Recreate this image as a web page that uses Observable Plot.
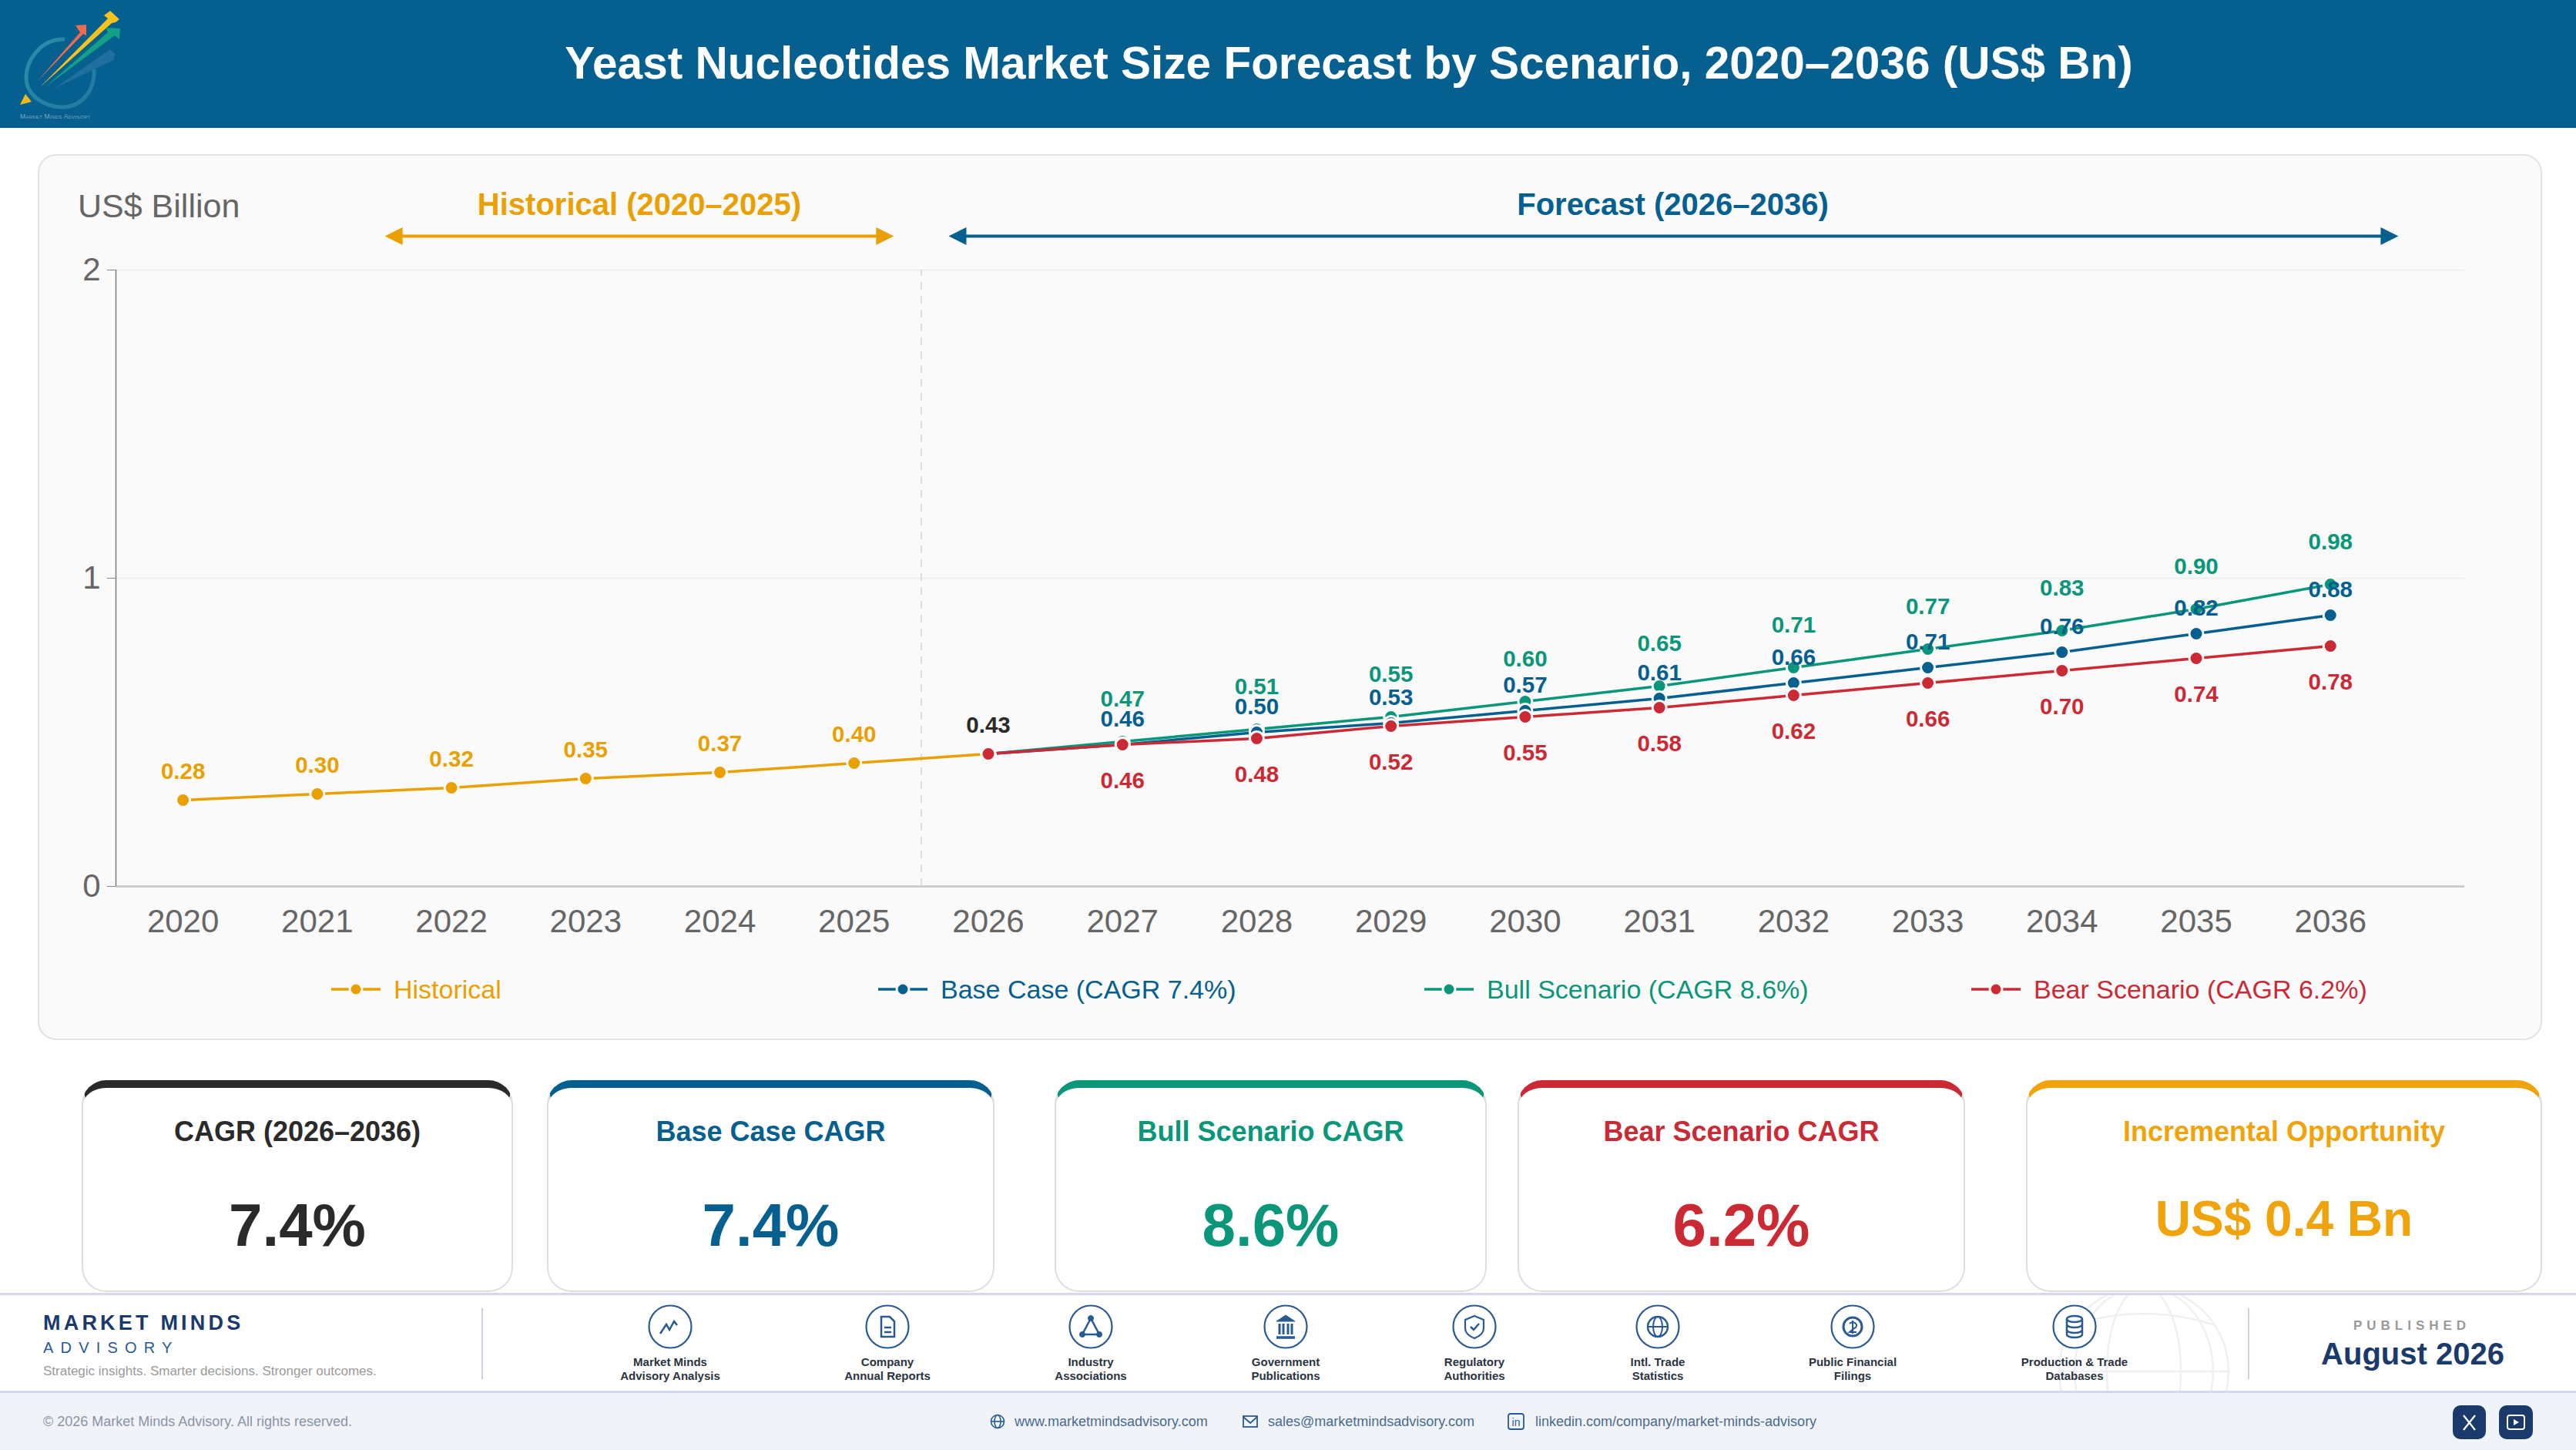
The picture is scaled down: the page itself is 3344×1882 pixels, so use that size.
<!DOCTYPE html>
<html lang="en">
<head>
<meta charset="utf-8">
<title>Yeast Nucleotides Market Size Forecast by Scenario</title>
<script src="https://cdn.jsdelivr.net/npm/d3@7"></script>
<script src="https://cdn.jsdelivr.net/npm/@observablehq/plot@0.6"></script>
<style>
html,body{margin:0;padding:0;background:#fff;}
#root{position:relative;width:3344px;height:1882px;overflow:hidden;font-family:"Liberation Sans",Arial,sans-serif;background:#fff;}
#root>*{position:absolute;}
.t{position:absolute;white-space:nowrap;line-height:1;}
.c{transform:translate(-50%,-50%);text-align:center;}
.m{transform:translateY(-50%);}
.card{box-sizing:border-box;background:#fff;border:2px solid #dedede;border-top-width:10px;border-radius:32px;}
</style>
</head>
<body>
<div id="root"></div>
<script>
// ---- chart data ----
const histYears = [2020, 2021, 2022, 2023, 2024, 2025, 2026];
const histValues = [0.28, 0.30, 0.32, 0.35, 0.37, 0.40, 0.43];
const foreYears = [2026, 2027, 2028, 2029, 2030, 2031, 2032, 2033, 2034, 2035, 2036];
const baseValues = [0.43, 0.46, 0.50, 0.53, 0.57, 0.61, 0.66, 0.71, 0.76, 0.82, 0.88];
const bullValues = [0.43, 0.47, 0.51, 0.55, 0.60, 0.65, 0.71, 0.77, 0.83, 0.90, 0.98];
const bearValues = [0.43, 0.46, 0.48, 0.52, 0.55, 0.58, 0.62, 0.66, 0.70, 0.74, 0.78];
const xTicks = [2020,2021,2022,2023,2024,2025,2026,2027,2028,2029,2030,2031,2032,2033,2034,2035,2036];
const yTicks = [0, 1, 2];

const legendItems = [
  ["Historical", "#E9A000"],
  ["Base Case (CAGR 7.4%)", "#05608F"],
  ["Bull Scenario (CAGR 8.6%)", "#0A9678"],
  ["Bear Scenario (CAGR 6.2%)", "#CB2A35"]
];
const kpiLabels = ["CAGR (2026–2036)", "Base Case CAGR", "Bull Scenario CAGR", "Bear Scenario CAGR", "Incremental Opportunity"];
const kpiValues = ["7.4%", "7.4%", "8.6%", "6.2%", "US$ 0.4 Bn"];
const sourceLabels = [
  ["Market Minds","Advisory Analysis"],["Company","Annual Reports"],["Industry","Associations"],
  ["Government","Publications"],["Regulatory","Authorities"],["Intl. Trade","Statistics"],
  ["Public Financial","Filings"],["Production & Trade","Databases"]
];

// ---- styles and layout ----
const ORANGE="#E9A000", BASE="#05608F", BULL="#0A9678", BEAR="#CB2A35", INK="#2A2A2A", NAVY="#1A3A6B", ICON="#2A5A94";
const root = document.getElementById("root");
function el(html){const d=document.createElement("div");d.innerHTML=html.trim();return d.firstChild;}
function text(str,x,y,size,color,opt={}){
  const e=document.createElement("div");
  e.className="t "+(opt.left?"m":"c");
  e.textContent=str;
  e.style.cssText+=`left:${x}px;top:${y}px;font-size:${size}px;color:${color};font-weight:${opt.bold?700:400};letter-spacing:${opt.ls||0}px;`;
  root.appendChild(e);
}
function box(x,y,w,h,css){const e=document.createElement("div");e.style.cssText=`left:${x}px;top:${y}px;width:${w}px;height:${h}px;${css}`;root.appendChild(e);return e;}

// header
box(0,0,3344,166,`background:${BASE};`);
root.appendChild(el(`<svg style="left:0;top:0" width="180" height="166" viewBox="0 0 180 166">
<defs><linearGradient id="ring" x1="0" y1="0" x2="1" y2="1"><stop offset="0" stop-color="#2f8cab"/><stop offset="1" stop-color="#1f7a9f"/></linearGradient></defs>
<path d="M84 51 C52 50 33 80 34 103 C36 127 62 140 84 139 C108 137 124 115 122 90" fill="none" stroke="url(#ring)" stroke-width="5"/>
<polygon points="70,115 143,64 150,70 147,78" fill="#1f6f9f"/>
<polygon points="60,112 140,42 138,36 156,37 155,51 149,46" fill="#14A085"/>
<polygon points="52,113 140,24 135,20 143,14 155,25 150,29 145,30" fill="#F6C21C"/>
<polygon points="48,106 104,42 98,33 112,32 112,46 108,44" fill="#EF6A4E"/>
<polygon points="26,136 41,132 33,122" fill="#F4B81E"/>
<text x="26" y="154" font-size="8.5" fill="#7FA8C4" font-family="Liberation Sans" style="font-variant:small-caps" letter-spacing=".3">Market Minds Advisory</text>
</svg>`));
text("Yeast Nucleotides Market Size Forecast by Scenario, 2020–2036 (US$ Bn)",1751,82,58.5,"#fff",{bold:true});

// chart card
box(49,200,3251,1150,"box-sizing:border-box;background:#FAFAFA;border:2px solid #E2E2E2;border-radius:24px;");
text("US$ Billion",101,267,43,"#666",{left:true});

const toRows=(ys,vs,series)=>ys.map((year,i)=>({year,value:vs[i],series}));
const histRows=toRows(histYears,histValues,"Historical");
const baseRows=toRows(foreYears,baseValues,"Base");
const bullRows=toRows(foreYears,bullValues,"Bull");
const bearRows=toRows(foreYears,bearValues,"Bear");

const triLeft={draw(ctx,size){const s=Math.sqrt(size/Math.PI);ctx.moveTo(-s,0);ctx.lineTo(s,-s);ctx.lineTo(s,s);ctx.closePath();}};
const triRight={draw(ctx,size){const s=Math.sqrt(size/Math.PI);ctx.moveTo(s,0);ctx.lineTo(-s,-s);ctx.lineTo(-s,s);ctx.closePath();}};

const periods=[
  {label:"Historical (2020–2025)",start:2021.57,end:2025.23,mid:2023.4,color:ORANGE},
  {label:"Forecast (2026–2036)",start:2025.77,end:2036.44,mid:2031.1,color:BASE}
];
const arrowY=2.11, periodLabelY=2.21;

const seriesMark=(rows,color)=>[
  Plot.line(rows,{x:"year",y:"value",stroke:color,strokeWidth:3.5}),
];
const dotMark=(rows,color)=>Plot.dot(rows,{x:"year",y:"value",fill:color,stroke:"#FAFAFA",strokeWidth:3,r:9});
const labelMark=(rows,color,dy)=>Plot.text(rows,{x:"year",y:"value",text:d=>d.value.toFixed(2),fill:color,dy,fontSize:29.5,fontWeight:700,lineAnchor:"middle"});

const chart=Plot.plot({
  width:3344,height:1350,
  marginLeft:150,marginRight:145,marginTop:350,marginBottom:200,
  style:{background:"transparent",fontFamily:"Liberation Sans",overflow:"visible"},
  x:{domain:[2019.5,2037]},
  y:{domain:[0,2]},
  marks:[
    Plot.ruleY([1,2],{stroke:"#EEEEEE",strokeWidth:2}),
    Plot.ruleX([2025.5],{y1:0,y2:2,stroke:"#DCDCDC",strokeWidth:2,strokeDasharray:"10,8"}),
    Plot.ruleY([0],{stroke:"#CDCDCD",strokeWidth:3}),
    Plot.ruleX([2019.5],{y1:0,y2:2,stroke:"#7E7E7E",strokeWidth:1.5}),
    Plot.axisY({ticks:yTicks,tickFormat:"d",label:null,tickSize:11,tickPadding:9,fontSize:42,color:"#666",stroke:"#888",tickStrokeWidth:1.5}),
    Plot.axisX({ticks:xTicks,tickFormat:"d",label:null,tickSize:0,tickPadding:30,fontSize:42,color:"#666"}),
    ...seriesMark(histRows,ORANGE),
    ...seriesMark(bullRows,BULL),
    ...seriesMark(baseRows,BASE),
    ...seriesMark(bearRows,BEAR),
    dotMark(histRows,ORANGE),
    dotMark(bullRows,BULL),
    dotMark(baseRows,BASE),
    dotMark(bearRows,BEAR),
    labelMark(histRows.slice(0,6),ORANGE,-36.5),
    labelMark(bullRows.slice(1),BULL,-55),
    labelMark(baseRows.slice(1),BASE,-33),
    labelMark(bearRows.slice(1),BEAR,47),
    labelMark(baseRows.slice(0,1),INK,-36.5),
    Plot.ruleY(periods,{x1:"start",x2:"end",y:()=>arrowY,stroke:"color",strokeWidth:4}),
    Plot.dot(periods,{x:"start",y:()=>arrowY,r:11.5,fill:"color",stroke:"none",symbol:triLeft}),
    Plot.dot(periods,{x:"end",y:()=>arrowY,r:11.5,fill:"color",stroke:"none",symbol:triRight}),
    Plot.text(periods,{x:"mid",y:()=>periodLabelY,text:"label",fill:"color",fontSize:40,fontWeight:700,lineAnchor:"middle"})
  ]
});
chart.style.left="0";chart.style.top="0";
root.appendChild(chart);

// legend
const legendX=[430,1140,1849,2559], legendTextX=[511,1221,1930,2640];
legendItems.forEach(([name,color],i)=>{
  root.appendChild(el(`<svg style="left:${legendX[i]}px;top:1270px" width="64" height="28"><line x1="0" x2="64" y1="14" y2="14" stroke="${color}" stroke-width="3.5"/><circle cx="32" cy="14" r="8" fill="${color}" stroke="#FAFAFA" stroke-width="3"/></svg>`));
  text(name,legendTextX[i],1284,34,color,{left:true});
});

// KPI cards
const cardX=[106,710,1369,1970,2630], cardW=[560,581,561,581,670], cardColor=[INK,BASE,BULL,BEAR,"#F0A30A"];
kpiLabels.forEach((lab,i)=>{
  box(cardX[i],1402,cardW[i],275,"").className="card";
  const e=root.lastChild;e.style.borderTopColor=cardColor[i];
  const cx=cardX[i]+cardW[i]/2;
  text(lab,cx,1469,36,cardColor[i],{bold:true});
  if(i<4)text(kpiValues[i],cx,1590,78,cardColor[i],{bold:true});
  else text(kpiValues[i],cx,1582,64,cardColor[i],{bold:true});
});

// footer
box(0,1680,3344,127,"background:#fff;");
root.appendChild(el(`<svg style="left:0;top:1680px" width="3344" height="127" fill="none" stroke="#EEF0F4" stroke-width="2.5">
<circle cx="2783" cy="100" r="110"/><ellipse cx="2783" cy="100" rx="48" ry="110"/><ellipse cx="2783" cy="100" rx="90" ry="110"/>
<line x1="2673" x2="2893" y1="100" y2="100"/><path d="M2690 40 Q2783 10 2876 40"/></svg>`));
box(0,1678,3344,3,"background:#D5D8E6;");
box(0,1807,3344,75,"background:#F0F4F9;");
box(0,1805,3344,3,"background:#D5D8E6;");
text("MARKET MINDS",56,1717,27,NAVY,{bold:true,left:true,ls:4.2});
text("ADVISORY",56,1749,20,"#2A5A94",{left:true,ls:9.2});
text("Strategic insights. Smarter decisions. Stronger outcomes.",56,1779,17,"#9A9A9A",{left:true});
box(625,1698,2,92,"background:#CBD3E0;");
box(2918,1698,2,92,"background:#CBD3E0;");

const iconX=[870,1152,1416,1669,1914,2152,2405,2693];
const iconGlyphs=[
 `<path d="M-13 9 L-5 -3 L-1 4 L5 -7 L9 -2 " fill="none" stroke-width="2.5"/>`,
 `<path d="M-8 -13 H3 L9 -7 V13 H-8 Z" fill="none" stroke-width="2.5"/><path d="M-4 1 H5 M-4 7 H5" stroke-width="2.5"/>`,
 `<path d="M0 -11 L-11 10 H11 Z" fill="none" stroke-width="2.5"/><circle cx="0" cy="-11" r="3.5" fill="${ICON}"/><circle cx="-11" cy="10" r="3.5" fill="${ICON}"/><circle cx="11" cy="10" r="3.5" fill="${ICON}"/>`,
 `<path d="M-12 -7 L0 -15 L12 -7 Z" fill="${ICON}"/><path d="M-8 -4 V10 M-3 -4 V10 M3 -4 V10 M8 -4 V10" stroke-width="3"/><path d="M-12 14 H12" stroke-width="3.5"/>`,
 `<path d="M0 -14 L12 -9 V2 C12 9 5 13 0 15 C-5 13 -12 9 -12 2 V-9 Z" fill="none" stroke-width="2.2"/><path d="M-5 0 L-1 4 L6 -4" fill="none" stroke-width="2.5"/>`,
 `<circle r="13" fill="none" stroke-width="2.5"/><ellipse rx="6" ry="13" fill="none" stroke-width="2"/><path d="M-13 0 H13" stroke-width="2"/>`,
 `<circle r="12" fill="none" stroke-width="3"/><path d="M-4 -4 A5 4 0 1 1 2 2 L-4 7 H5 M0 -8 V9" fill="none" stroke-width="2"/>`,
 `<ellipse cy="-10" rx="10" ry="4" fill="none" stroke-width="2.5"/><path d="M-10 -10 V10 A10 4 0 0 0 10 10 V-10 M-10 -3 A10 4 0 0 0 10 -3 M-10 4 A10 4 0 0 0 10 4" fill="none" stroke-width="2.5"/>`
];
sourceLabels.forEach((lines,i)=>{
  root.appendChild(el(`<svg style="left:${iconX[i]-30}px;top:1692px" width="60" height="60" viewBox="-30 -30 60 60" stroke="${ICON}"><circle r="27.5" fill="#fff" stroke-width="2.2"/>${iconGlyphs[i]}</svg>`));
  text(lines[0],iconX[i],1767,15,"#2A3340",{bold:true});
  text(lines[1],iconX[i],1785,15,"#2A3340",{bold:true});
});
text("PUBLISHED",3131,1720,17,"#999",{bold:true,ls:6});
text("August 2026",3132,1757,40,NAVY,{bold:true});

// bottom strip
text("© 2026 Market Minds Advisory. All rights reserved.",56,1845,18,"#8A94A6",{left:true});
const contacts=[["www.marketmindsadvisory.com",1317],["sales@marketmindsadvisory.com",1646],["linkedin.com/company/market-minds-advisory",1993]];
contacts.forEach(([s,x])=>text(s,x,1845,18,"#4A6A8F",{left:true}));
const CI="#2A5A94";
root.appendChild(el(`<svg style="left:1284px;top:1834px" width="22" height="22" viewBox="-11 -11 22 22" fill="none" stroke="${CI}" stroke-width="1.6"><circle r="8.5"/><ellipse rx="4" ry="8.5"/><path d="M-8.5 0 H8.5"/></svg>`));
root.appendChild(el(`<svg style="left:1612px;top:1834px" width="22" height="22" viewBox="-11 -11 22 22" fill="none" stroke="${CI}" stroke-width="1.8"><rect x="-9" y="-7" width="18" height="14"/><path d="M-9 -6 L0 2 L9 -6"/></svg>`));
root.appendChild(el(`<svg style="left:1956px;top:1833px" width="24" height="24" viewBox="-12 -12 24 24"><rect x="-10" y="-10" width="20" height="20" rx="3" fill="none" stroke="${CI}" stroke-width="1.8"/><text x="0" y="5.5" text-anchor="middle" font-size="14" fill="${CI}" font-family="Liberation Sans">in</text></svg>`));
box(3184,1824,43,44,`background:${NAVY};border-radius:10px;`);
box(3244,1824,44,44,`background:${NAVY};border-radius:10px;`);
root.appendChild(el(`<svg style="left:3184px;top:1824px" width="43" height="44" stroke="#fff" stroke-width="2.2"><path d="M14 13 L29 32 M29 13 L14 32"/></svg>`));
root.appendChild(el(`<svg style="left:3244px;top:1824px" width="44" height="44" fill="none" stroke="#fff" stroke-width="2"><rect x="11" y="13" width="22" height="18" rx="3"/><path d="M19 18 L26 22 L19 26 Z" fill="#fff" stroke="none"/></svg>`));
</script>
</body>
</html>
